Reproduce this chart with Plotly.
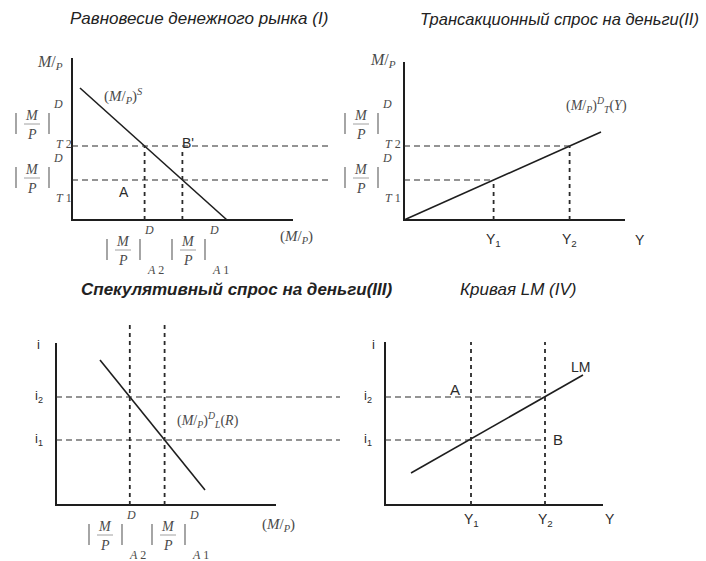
import plotly.graph_objects as go

# ---------------- data (model units) ----------------
# Panel I: money market equilibrium
p1_axis = [11.05, 8.1]
p1_supply_x = [0.4, 7.75]
p1_supply_y = [6.6, 0.0]
p1_T = [2.0, 3.7]            # (M/P)^D_T1, (M/P)^D_T2
p1_A = [5.52, 3.63]          # (M/P)^D_A1, (M/P)^D_A2

# Panel II: transactions demand for money
p2_axis = [11.05, 7.9]
p2_demand_x = [0.0, 9.85]
p2_demand_y = [0.0, 4.4]
p2_Y = [4.48, 8.28]          # Y1, Y2

# Panel III: speculative demand for money
p3_axis = [11.0, 8.1]
p3_demand_x = [2.2, 7.45]
p3_demand_y = [7.25, 0.75]
p3_i = [3.25, 5.4]           # i1, i2
p3_A = [5.43, 3.69]          # (M/P)^D_A1, (M/P)^D_A2

# Panel IV: LM curve
p4_axis = [10.9, 8.15]
p4_lm_x = [1.3, 9.9]
p4_lm_y = [1.6, 6.5]
p4_Y = [4.3, 8.0]            # Y1, Y2

titles = [
    "<i>Равновесие денежного рынка (I)</i>",
    "<i>Трансакционный спрос на деньги(II)</i>",
    "<b><i>Спекулятивный спрос на деньги(III)</i></b>",
    "<i>Кривая LM (IV)</i>",
]

# ---------------- layout geometry ----------------
W, H = 706, 561
S = 20.0  # pixels per model unit
# quadrant (x0, y0, x1, y1) in pixels and axis origin in pixels
panels = {
    "1": dict(box=(0, 0, 353, 280), origin=(72, 220)),
    "2": dict(box=(353, 0, 706, 280), origin=(404, 220)),
    "3": dict(box=(0, 280, 353, 561), origin=(56, 505)),
    "4": dict(box=(353, 280, 706, 561), origin=(385, 505)),
}

INK = "#1e1e1e"
DASH_INK = "#2a2a2a"
TXT = "#2b2b2b"
MATH = "#4a4a4a"
SANS = "Liberation Sans, Arial, sans-serif"
SERIF = "Liberation Serif, Times New Roman, serif"

fig = go.Figure()
layout_axes = {}
for k, p in panels.items():
    x0, y0, x1, y1 = p["box"]
    ox, oy = p["origin"]
    xa = "xaxis" if k == "1" else f"xaxis{k}"
    ya = "yaxis" if k == "1" else f"yaxis{k}"
    layout_axes[xa] = dict(domain=[x0 / W, x1 / W], range=[(x0 - ox) / S, (x1 - ox) / S],
                           visible=False, fixedrange=True,
                           anchor="y" if k == "1" else f"y{k}")
    layout_axes[ya] = dict(domain=[1 - y1 / H, 1 - y0 / H], range=[(oy - y1) / S, (oy - y0) / S],
                           visible=False, fixedrange=True,
                           anchor="x" if k == "1" else f"x{k}")


def ax(k):
    return ("x", "y") if k == "1" else (f"x{k}", f"y{k}")


def to_paper(k, x, y, dx=0, dy=0):
    """Model point of panel k (plus a pixel offset) in paper coordinates."""
    ox, oy = panels[k]["origin"]
    px = ox + x * S + dx
    py = oy - y * S - dy
    return px / W, 1 - py / H


def seg(k, xs, ys, width=1.6, dash=None, color=INK):
    a = ax(k)
    fig.add_trace(go.Scatter(x=xs, y=ys, mode="lines", xaxis=a[0], yaxis=a[1],
                             line=dict(color=color, width=width, dash=dash),
                             hoverinfo="skip", showlegend=False))


def note(k, x, y, text, size=14, color=TXT, family=SANS, dx=0, dy=0, xanchor="center"):
    a = ax(k)
    fig.add_annotation(x=x, y=y, xref=a[0], yref=a[1], text=text, showarrow=False,
                       font=dict(size=size, color=color, family=family),
                       xshift=dx, yshift=dy, xanchor=xanchor, yanchor="middle")


def stroke(k, x, y, d0, d1, color, width):
    xa, ya = to_paper(k, x, y, *d0)
    xb, yb = to_paper(k, x, y, *d1)
    fig.add_shape(type="line", xref="paper", yref="paper", x0=xa, y0=ya, x1=xb, y1=yb,
                  line=dict(color=color, width=width))


def frac(k, x, y, sub):
    """Bracketed (M over P) with superscript D and a subscript."""
    note(k, x, y, "<i>M</i>", 14, MATH, SERIF, dy=9)
    note(k, x, y, "<i>P</i>", 14, MATH, SERIF, dy=-10)
    stroke(k, x, y, (-8, 0), (8, 0), "#a0a0a0", 1)        # fraction bar
    stroke(k, x, y, (-16, -10), (-16, 11), "#6a6a6a", 1.2)  # left bracket
    stroke(k, x, y, (17, -10), (17, 11), "#6a6a6a", 1.2)    # right bracket
    note(k, x, y, "<i>D</i>", 12, MATH, SERIF, dx=26, dy=20)
    note(k, x, y, sub, 12, MATH, SERIF, dx=32, dy=-20)


MP = "<i>M</i>/<sub><i>P</i></sub>"
HDASH = "6px,4px"
VDASH = "4px,4px"

# ---- Panel I ----
seg("1", [0, 0, p1_axis[0]], [p1_axis[1], 0, 0], 2)
seg("1", p1_supply_x, p1_supply_y, 1.6)
for t in p1_T:
    seg("1", [0, 12.9], [t, t], 1.1, HDASH, DASH_INK)
seg("1", [p1_A[1], p1_A[1]], [0, p1_T[1]], 1.8, VDASH, DASH_INK)
seg("1", [p1_A[0], p1_A[0]], [0, 3.5], 1.8, VDASH, DASH_INK)
note("1", -1.1, 7.9, MP, 16, MATH, SERIF)
note("1", 2.55, 6.2, "(" + MP + ")<sup><i>S</i></sup>", 15, MATH, SERIF)
note("1", 11.2, -0.85, "(" + MP + ")", 15, MATH, SERIF)
note("1", 2.6, 1.4, "A", 14)
note("1", 5.8, 3.85, "B'", 14)
frac("1", -2.0, 4.8, "<i>T</i> 2")
frac("1", -2.0, 2.1, "<i>T</i> 1")
frac("1", 2.55, -1.5, "<i>A</i> 2")
frac("1", 5.8, -1.5, "<i>A</i> 1")

# ---- Panel II ----
seg("2", [0, 0, p2_axis[0]], [p2_axis[1], 0, 0], 2)
seg("2", p2_demand_x, p2_demand_y, 1.6)
seg("2", [0, p2_Y[1]], [p1_T[1], p1_T[1]], 1.1, HDASH, DASH_INK)
seg("2", [0, p2_Y[0]], [p1_T[0], p1_T[0]], 1.1, HDASH, DASH_INK)
seg("2", [p2_Y[0], p2_Y[0]], [0, p1_T[0]], 1.8, VDASH, DASH_INK)
seg("2", [p2_Y[1], p2_Y[1]], [0, p1_T[1]], 1.8, VDASH, DASH_INK)
note("2", -1.05, 8.0, MP, 16, MATH, SERIF)
note("2", 9.6, 5.75, "(" + MP + ")<sup><i>D</i></sup><sub><i>T</i></sub>(<i>Y</i>)", 14, MATH, SERIF)
frac("2", -2.15, 4.8, "<i>T</i> 2")
frac("2", -2.15, 2.1, "<i>T</i> 1")
note("2", p2_Y[0], -1.0, "Y<sub>1</sub>", 14)
note("2", p2_Y[1], -1.0, "Y<sub>2</sub>", 14)
note("2", 11.8, -1.0, "Y", 14)

# ---- Panel III ----
seg("3", [0, 0, p3_axis[0]], [p3_axis[1], 0, 0], 2)
seg("3", p3_demand_x, p3_demand_y, 1.6)
for lvl in p3_i:
    seg("3", [0, 14.2], [lvl, lvl], 1.1, HDASH, DASH_INK)
for a in p3_A:
    seg("3", [a, a], [0, 9.0], 1.8, VDASH, DASH_INK)
note("3", -0.9, 8.0, "i", 13)
note("3", -0.85, p3_i[1], "i<sub>2</sub>", 13)
note("3", -0.85, p3_i[0], "i<sub>1</sub>", 13)
note("3", 7.6, 4.25, "(" + MP + ")<sup><i>D</i></sup><sub><i>L</i></sub>(<i>R</i>)", 14, MATH, SERIF)
note("3", 11.1, -1.0, "(" + MP + ")", 15, MATH, SERIF)
frac("3", 2.45, -1.5, "<i>A</i> 2")
frac("3", 5.6, -1.5, "<i>A</i> 1")

# ---- Panel IV ----
seg("4", [0, 0, p4_axis[0]], [p4_axis[1], 0, 0], 2)
seg("4", p4_lm_x, p4_lm_y, 1.6)
for lvl in p3_i:
    seg("4", [0, p4_Y[1]], [lvl, lvl], 1.1, HDASH, DASH_INK)
for yv in p4_Y:
    seg("4", [yv, yv], [0, 8.15], 1.8, VDASH, DASH_INK)
note("4", -0.6, 8.0, "i", 13)
note("4", -0.85, p3_i[1], "i<sub>2</sub>", 13)
note("4", -0.85, p3_i[0], "i<sub>1</sub>", 13)
note("4", 9.75, 6.9, "LM", 14)
note("4", 3.5, 5.75, "A", 15)
note("4", 8.65, 3.25, "B", 15)
note("4", p4_Y[0], -0.75, "Y<sub>1</sub>", 14)
note("4", p4_Y[1], -0.75, "Y<sub>2</sub>", 14)
note("4", 11.25, -0.7, "Y", 14)

# ---- panel titles ----
title_pos = [(199, 19), (559, 19), (236, 289), (518, 289)]
title_size = [17, 16.5, 17, 17]
for txt, (px, py), fs in zip(titles, title_pos, title_size):
    fig.add_annotation(x=px / W, y=1 - py / H, xref="paper", yref="paper", text=txt,
                       showarrow=False, font=dict(size=fs, color="#222", family=SANS),
                       xanchor="center", yanchor="middle")

fig.update_layout(width=W, height=H, margin=dict(l=0, r=0, t=0, b=0),
                  paper_bgcolor="white", plot_bgcolor="rgba(0,0,0,0)",
                  showlegend=False, **layout_axes)

fig.write_html("out.html", config={"displayModeBar": False})
